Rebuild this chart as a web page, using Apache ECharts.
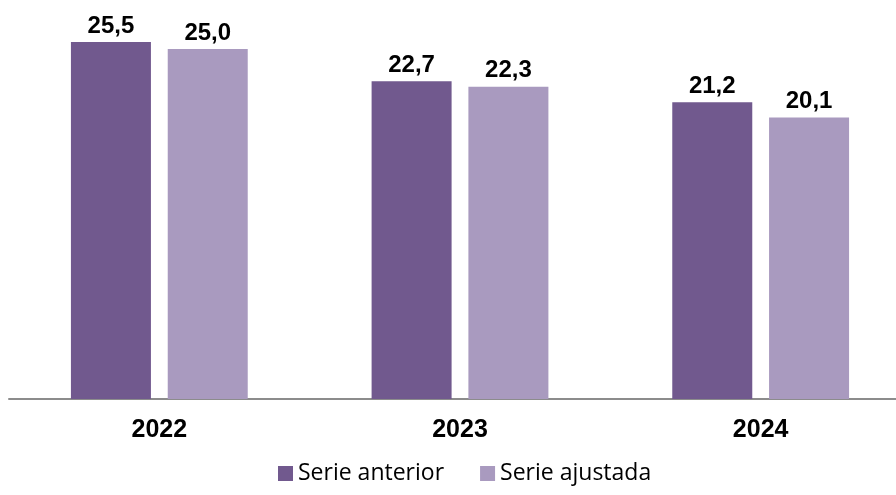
<!DOCTYPE html>
<html>
<head>
<meta charset="utf-8">
<script src="https://cdn.jsdelivr.net/npm/echarts@6/dist/echarts.min.js"></script>
<style>
  html, body { margin: 0; padding: 0; background: #fff; }
  #chart { width: 896px; height: 495px; }
</style>
</head>
<body>
<div id="chart"></div>
<script>
  var years = ['2022', '2023', '2024'];
  var serieAnterior = [25.5, 22.7, 21.2];
  var serieAjustada = [25.0, 22.3, 20.1];

  var labelFmt = function (p) {
    return p.value.toFixed(1).replace('.', ',');
  };

  var chart = echarts.init(document.getElementById('chart'));
  chart.setOption({
    animation: false,
    grid: { left: 9, width: 902, top: 7, bottom: 96, outerBoundsMode: 'none', containLabel: false },
    legend: {
      data: ['Serie anterior', 'Serie ajustada'],
      left: 273,
      top: 457,
      icon: 'rect',
      itemWidth: 15,
      itemHeight: 15,
      itemGap: 36,
      textStyle: { fontFamily: 'Open Sans', fontSize: 23, color: '#000' }
    },
    xAxis: {
      type: 'category',
      data: years,
      axisTick: { show: false },
      axisLine: { lineStyle: { color: '#8c8c8c', width: 2 } },
      axisLabel: {
        margin: 19,
        color: '#000',
        fontFamily: 'Liberation Sans',
        fontWeight: 'bold',
        fontSize: 25
      }
    },
    yAxis: {
      type: 'value',
      min: 0,
      max: 28,
      show: false
    },
    series: [
      {
        name: 'Serie anterior',
        type: 'bar',
        data: serieAnterior,
        barWidth: 80,
        barGap: '21%',
        itemStyle: { color: '#71598e' },
        label: {
          show: true,
          position: 'top',
          distance: 4,
          formatter: labelFmt,
          color: '#000',
          fontFamily: 'Liberation Sans',
          fontWeight: 'bold',
          fontSize: 24
        }
      },
      {
        name: 'Serie ajustada',
        type: 'bar',
        data: serieAjustada,
        barWidth: 80,
        itemStyle: { color: '#a99abf' },
        label: {
          show: true,
          position: 'top',
          distance: 4,
          formatter: labelFmt,
          color: '#000',
          fontFamily: 'Liberation Sans',
          fontWeight: 'bold',
          fontSize: 24
        }
      }
    ]
  });
</script>
</body>
</html>
